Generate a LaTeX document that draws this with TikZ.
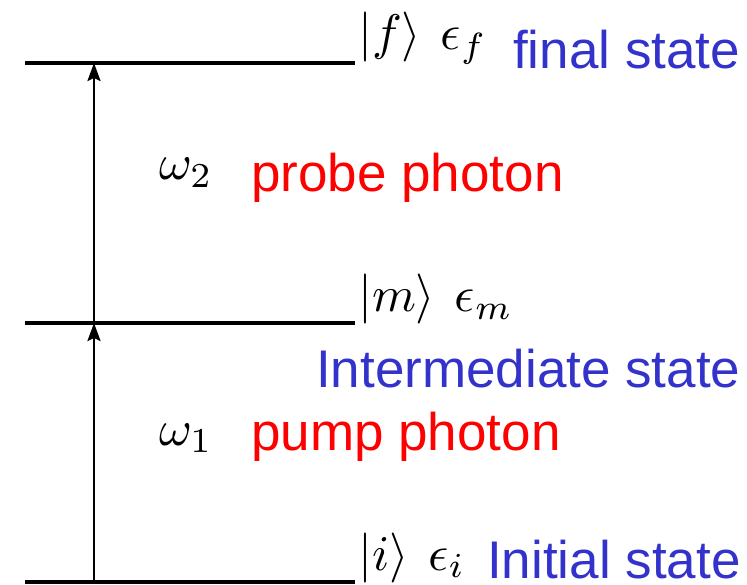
\documentclass[tikz,border=0pt]{standalone}
\usepackage{fontspec}
\newfontfamily\arialf{Liberation Sans}
\usetikzlibrary{arrows.meta}
\definecolor{stateblue}{RGB}{51,51,204}
\definecolor{photonred}{RGB}{255,0,0}
\newcommand{\bigmath}[1]{\scalebox{5}{$#1$}}
\begin{document}
\begin{tikzpicture}[x=1pt,y=-1pt,
  level/.style={line width=3.2pt},
  trans/.style={line width=2.6pt,-{Stealth[length=18pt,width=13pt,inset=3pt]}},
  mathlbl/.style={anchor=base west,inner sep=0pt},
  statelbl/.style={anchor=base west,inner sep=0pt,text=stateblue,font=\arialf\fontsize{53}{60}\selectfont},
  photonlbl/.style={anchor=base west,inner sep=0pt,text=photonred,font=\arialf\fontsize{53}{60}\selectfont}]
\useasboundingbox (0,0) rectangle (747,585);
% levels
\coordinate (fL) at (25,63);  \coordinate (fR) at (355,63);
\coordinate (mL) at (25,323); \coordinate (mR) at (355,323);
\coordinate (iL) at (25,582); \coordinate (iR) at (355,582);
\draw[level] (fL) -- (fR);
\draw[level] (mL) -- (mR);
\draw[level] (iL) -- (iR);
% transitions
\coordinate (a0) at (94,582);
\coordinate (a1) at (94,323);
\coordinate (a2) at (94,63);
\draw[trans] (a0) -- (a1);
\draw[trans] (a1) -- (a2);
% math labels
\node[mathlbl] (lf) at (358,50) {\bigmath{|f\rangle\mskip7mu\epsilon_f}};
\node[mathlbl] (lm) at (358,312) {\bigmath{|m\rangle\mskip7mu\epsilon_m}};
\node[mathlbl] (li) at (358,570) {\bigmath{|i\rangle\mskip7mu\epsilon_i}};
\node[mathlbl] (w2) at (159,180) {\bigmath{\omega_2}};
\node[mathlbl] (w1) at (159,445) {\bigmath{\omega_1}};
% text labels
\node[statelbl] (fs) at (513,69) {final state};
\node[statelbl] (ms) at (316,387) {Intermediate state};
\node[statelbl] (is) at (487,578) {Initial state};
\node[photonlbl] (pr) at (251,192) {probe photon};
\node[photonlbl] (pu) at (251,450) {pump photon};
\end{tikzpicture}
\end{document}
